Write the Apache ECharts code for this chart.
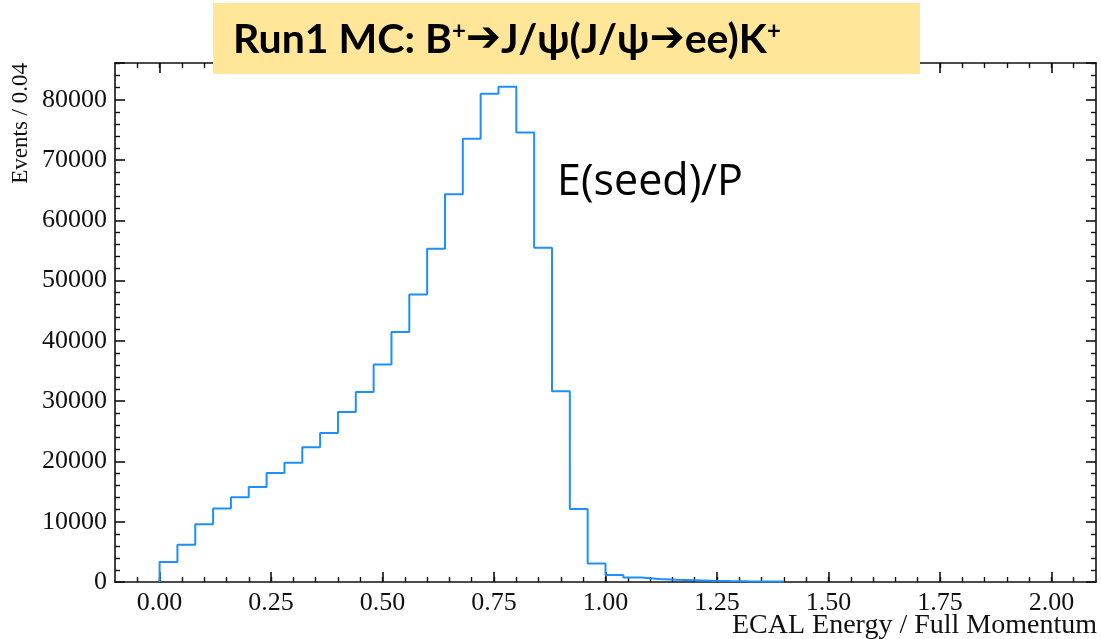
<!DOCTYPE html>
<html>
<head>
<meta charset="utf-8">
<script src="https://cdn.jsdelivr.net/npm/echarts@6/dist/echarts.min.js"></script>
<style>
  html, body { margin: 0; padding: 0; background: #fff; }
  #chart { width: 1101px; height: 639px; }
</style>
</head>
<body>
<div id="chart"></div>
<script>
// histogram: bins of 0.04 starting at 0
const binStart = 0;
const binWidth = 0.04;
const counts = [
  3300, 6200, 9600, 12200, 14050, 15750, 18080, 19800, 22340, 24710,
  28190, 31510, 36100, 41460, 47710, 55290, 64340, 73530, 81000, 82150,
  74580, 55460, 31630, 12100, 3050, 1150, 750, 500, 380, 300,
  220, 160, 120, 90, 70
];
const xMajorTicks = [0, 0.25, 0.5, 0.75, 1.0, 1.25, 1.5, 1.75, 2.0];
const yTicks = [0, 10000, 20000, 30000, 40000, 50000, 60000, 70000, 80000];
const xRange = [-0.1, 2.1];
const yMax = 86100;

// minor ticks every 0.05
const xMinorTicks = [];
for (let v = -0.05; v <= 2.06; v += 0.05) xMinorTicks.push(Math.round(v * 100) / 100);

// step outline points (edge, value)
const stepData = [[binStart, 0]];
counts.forEach((c, i) => stepData.push([+(binStart + i * binWidth).toFixed(2), c]));
stepData.push([+(binStart + counts.length * binWidth).toFixed(2), 0]);

const serif = "'Liberation Serif', 'DejaVu Serif', serif";
const black = "#111";

function majorX(pos, labels) {
  return {
    type: "value", gridIndex: 0, position: pos,
    min: xRange[0], max: xRange[1],
    axisLine: { show: true, onZero: false, lineStyle: { color: black, width: 1.6 } },
    axisTick: { show: true, inside: true, length: 10, customValues: xMajorTicks,
      lineStyle: { color: black, width: 1.6 } },
    axisLabel: { show: labels, customValues: xMajorTicks, margin: 8,
      formatter: (v) => v.toFixed(2),
      fontFamily: serif, fontSize: 26, color: black },
    splitLine: { show: false },
  };
}
function minorX(pos) {
  return {
    type: "value", gridIndex: 1, position: pos,
    min: xRange[0], max: xRange[1],
    axisLine: { show: false, onZero: false },
    axisTick: { show: true, inside: true, length: 5, customValues: xMinorTicks,
      lineStyle: { color: black, width: 1.4 } },
    axisLabel: { show: false },
    splitLine: { show: false },
  };
}
function leftRightY(pos, labels) {
  return {
    type: "value", gridIndex: 0, position: pos,
    min: 0, max: yMax, interval: 10000,
    axisLine: { show: true, onZero: false, lineStyle: { color: black, width: 1.6 } },
    axisTick: { show: true, inside: true, length: 10, lineStyle: { color: black, width: 1.6 } },
    minorTick: { show: true, splitNumber: 5, length: 5, lineStyle: { color: black, width: 1.4 } },
    axisLabel: { show: labels, margin: 8, showMaxLabel: true,
      formatter: (v) => (yTicks.indexOf(v) >= 0 ? String(v) : ""),
      fontFamily: serif, fontSize: 26, color: black },
    splitLine: { show: false },
  };
}

const chart = echarts.init(document.getElementById("chart"), null, { renderer: "canvas" });
chart.setOption({
  animation: false,
  backgroundColor: "#fff",
  grid: [
    { left: 115, right: 5, top: 63, bottom: 57 },
    { left: 115, right: 5, top: 63, bottom: 57 },
  ],
  xAxis: [majorX("bottom", true), majorX("top", false), minorX("bottom"), minorX("top")],
  yAxis: [
    leftRightY("left", true), leftRightY("right", false),
    { type: "value", gridIndex: 1, min: 0, max: yMax, show: false },
  ],
  series: [{
    type: "line",
    xAxisIndex: 0, yAxisIndex: 0,
    step: "end",
    data: stepData,
    showSymbol: false,
    lineStyle: { color: "#1E8FFF", width: 2 },
  }],
  graphic: [
    { type: "text", x: 21, y: 63, rotation: Math.PI / 2, z: 50,
      style: { text: "Events / 0.04", font: "23px " + serif, fill: black,
        align: "right", verticalAlign: "middle" } },
    { type: "text", x: 1097, y: 626, z: 50,
      style: { text: "ECAL Energy / Full Momentum", font: "28px " + serif, fill: black,
        align: "right", verticalAlign: "middle" } },
    { type: "rect", z: 100, shape: { x: 213, y: 3, width: 707, height: 71 },
      style: { fill: "#FFE699" } },
    { type: "text", x: 233, y: 40, z: 101,
      style: {
        text: "Run1 MC: B{s|+}{a|➔}J/ψ(J/ψ{a|➔}ee)K{s|+}",
        font: "bold 41px Lato, 'Noto Sans', sans-serif", fill: "#000",
        verticalAlign: "middle",
        rich: {
          s: { font: "bold 24px Lato, sans-serif", fill: "#000", verticalAlign: "top", padding: [0, 0, 18, 0] },
          a: { font: "bold 42px 'DejaVu Sans', sans-serif", fill: "#000" },
        },
      } },
    { type: "text", x: 557, y: 183, z: 50,
      style: { text: "E(seed)/P", font: "43px 'Open Sans', sans-serif", fill: "#000",
        verticalAlign: "middle" } },
  ],
});
</script>
</body>
</html>
